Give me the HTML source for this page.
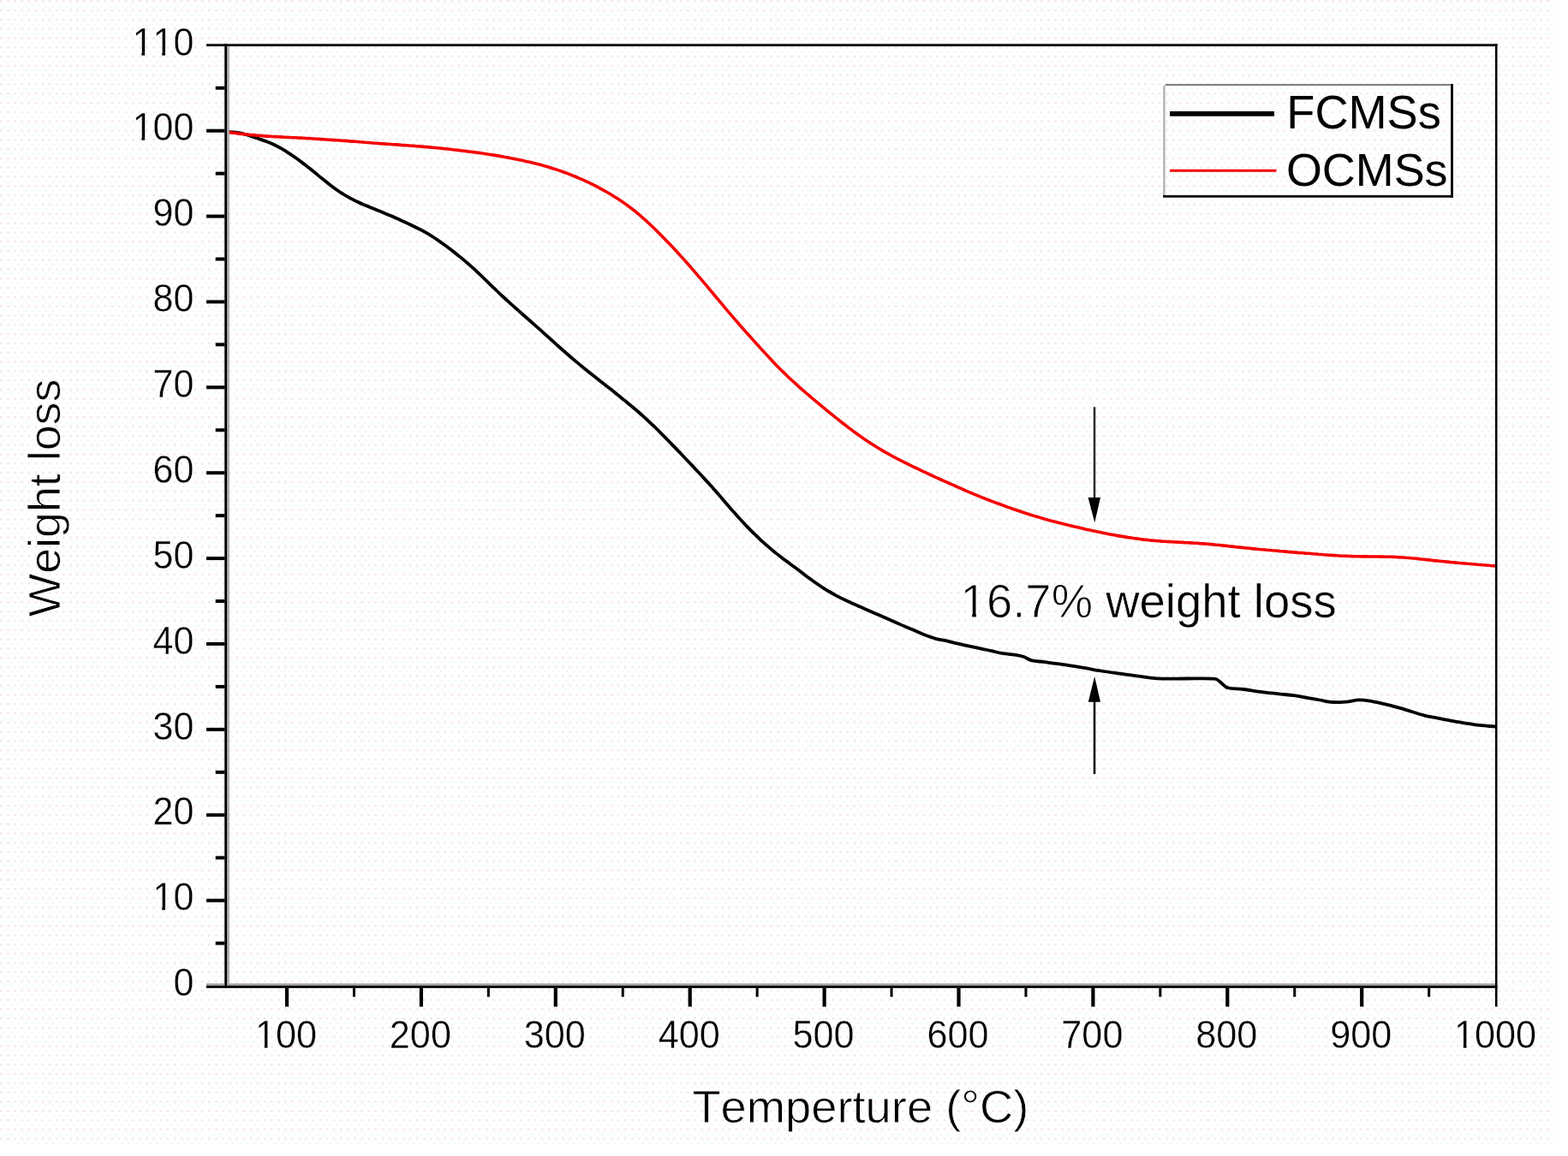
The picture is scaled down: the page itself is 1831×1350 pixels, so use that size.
<!DOCTYPE html>
<html><head><meta charset="utf-8"><title>TGA curves</title>
<style>
html,body{margin:0;padding:0;background:#fff;}
body{width:1831px;height:1350px;overflow:hidden;}
svg{display:block;}
</style></head>
<body>
<svg width="1831" height="1350" viewBox="0 0 1831 1350">
<defs><pattern id="dots" width="8.1" height="10.8" patternUnits="userSpaceOnUse"><rect x="0" y="0" width="2.7" height="2.7" fill="#f5ebeb"/><rect x="4.05" y="5.4" width="2.7" height="2.7" fill="#f0fcfc"/></pattern></defs>
<rect width="1831" height="1350" fill="#ffffff"/>
<rect width="1814" height="1336" fill="url(#dots)"/>
<path d="M264.5,154.1 C265.8,154.2 269.8,154.1 272.5,154.3 C275.2,154.5 277.8,154.8 280.5,155.3 C283.2,155.9 285.8,156.7 288.5,157.5 C291.2,158.3 293.8,159.3 296.5,160.2 C299.2,161.1 301.8,162.0 304.5,162.9 C307.2,163.8 309.8,164.7 312.5,165.7 C315.2,166.8 317.8,167.9 320.5,169.2 C323.2,170.5 325.8,171.9 328.5,173.4 C331.2,175.0 333.8,176.6 336.5,178.4 C339.2,180.1 341.8,181.9 344.5,183.8 C347.2,185.7 349.8,187.6 352.5,189.6 C355.2,191.6 357.8,193.7 360.5,195.8 C363.2,198.0 365.8,200.1 368.5,202.3 C371.2,204.5 373.8,206.7 376.5,208.8 C379.2,211.0 381.8,213.1 384.5,215.2 C387.2,217.3 389.8,219.3 392.5,221.2 C395.2,223.1 397.8,224.9 400.5,226.5 C403.2,228.2 405.8,229.7 408.5,231.2 C411.2,232.6 413.8,234.0 416.5,235.2 C419.2,236.5 421.8,237.7 424.5,238.9 C427.2,240.0 429.8,241.1 432.5,242.2 C435.2,243.3 437.8,244.4 440.5,245.5 C443.2,246.6 445.8,247.6 448.5,248.7 C451.2,249.8 453.8,251.0 456.5,252.1 C459.2,253.2 461.8,254.4 464.5,255.6 C467.2,256.8 469.8,258.0 472.5,259.2 C475.2,260.5 477.8,261.7 480.5,263.0 C483.2,264.3 485.8,265.6 488.5,267.0 C491.2,268.3 493.8,269.7 496.5,271.2 C499.2,272.7 501.8,274.3 504.5,276.0 C507.2,277.7 509.8,279.4 512.5,281.3 C515.2,283.1 517.8,285.0 520.5,287.0 C523.2,289.0 525.8,291.0 528.5,293.1 C531.2,295.1 533.8,297.3 536.5,299.4 C539.2,301.6 541.8,303.8 544.5,306.1 C547.2,308.4 549.8,310.7 552.5,313.1 C555.2,315.5 557.8,318.1 560.5,320.6 C563.2,323.2 565.8,325.8 568.5,328.4 C571.2,331.0 573.8,333.6 576.5,336.2 C579.2,338.7 581.8,341.3 584.5,343.8 C587.2,346.3 589.8,348.8 592.5,351.2 C595.2,353.6 597.8,356.0 600.5,358.4 C603.2,360.8 605.8,363.1 608.5,365.5 C611.2,367.8 613.8,370.2 616.5,372.5 C619.2,374.8 621.8,377.2 624.5,379.6 C627.2,381.9 629.8,384.3 632.5,386.7 C635.2,389.1 637.8,391.5 640.5,393.9 C643.2,396.3 645.8,398.7 648.5,401.1 C651.2,403.5 653.8,406.0 656.5,408.3 C659.2,410.7 661.8,413.0 664.5,415.3 C667.2,417.6 669.8,419.9 672.5,422.1 C675.2,424.3 677.8,426.5 680.5,428.7 C683.2,430.9 685.8,433.0 688.5,435.2 C691.2,437.3 693.8,439.4 696.5,441.5 C699.2,443.6 701.8,445.7 704.5,447.8 C707.2,449.9 709.8,452.0 712.5,454.1 C715.2,456.2 717.8,458.4 720.5,460.5 C723.2,462.6 725.8,464.8 728.5,467.0 C731.2,469.1 733.8,471.3 736.5,473.5 C739.2,475.7 741.8,477.9 744.5,480.2 C747.2,482.5 749.8,484.9 752.5,487.4 C755.2,489.8 757.8,492.3 760.5,494.8 C763.2,497.3 765.8,499.9 768.5,502.5 C771.2,505.2 773.8,507.9 776.5,510.6 C779.2,513.3 781.8,516.1 784.5,518.8 C787.2,521.6 789.8,524.4 792.5,527.1 C795.2,529.9 797.8,532.7 800.5,535.5 C803.2,538.3 805.8,541.1 808.5,543.9 C811.2,546.8 813.8,549.6 816.5,552.5 C819.2,555.3 821.8,558.2 824.5,561.1 C827.2,564.0 829.8,566.9 832.5,569.9 C835.2,572.9 837.8,576.0 840.5,579.1 C843.2,582.2 845.8,585.3 848.5,588.4 C851.2,591.5 853.8,594.6 856.5,597.6 C859.2,600.6 861.8,603.6 864.5,606.5 C867.2,609.4 869.8,612.3 872.5,615.1 C875.2,617.8 877.8,620.5 880.5,623.1 C883.2,625.7 885.8,628.3 888.5,630.8 C891.2,633.2 893.8,635.6 896.5,637.9 C899.2,640.3 901.8,642.5 904.5,644.7 C907.2,646.8 909.8,648.9 912.5,650.9 C915.2,653.0 917.8,654.9 920.5,656.9 C923.2,658.9 925.8,660.9 928.5,662.8 C931.2,664.8 933.8,666.9 936.5,668.9 C939.2,670.9 941.8,672.9 944.5,674.9 C947.2,676.8 949.8,678.8 952.5,680.7 C955.2,682.5 957.8,684.4 960.5,686.1 C963.2,687.8 965.8,689.5 968.5,691.0 C971.2,692.6 973.8,694.1 976.5,695.6 C979.2,697.0 981.8,698.3 984.5,699.6 C987.2,700.9 989.8,702.1 992.5,703.3 C995.2,704.6 997.8,705.7 1000.5,706.9 C1003.2,708.1 1005.8,709.3 1008.5,710.4 C1011.2,711.6 1013.8,712.8 1016.5,714.0 C1019.2,715.2 1021.8,716.3 1024.5,717.5 C1027.2,718.7 1029.8,719.9 1032.5,721.0 C1035.2,722.2 1037.8,723.4 1040.5,724.5 C1043.2,725.7 1045.8,726.9 1048.5,728.1 C1051.2,729.2 1053.5,730.3 1056.5,731.5 C1059.5,732.8 1062.4,734.0 1066.2,735.6 C1070.0,737.2 1074.9,739.5 1079.3,741.2 C1083.7,742.9 1088.0,744.6 1092.4,745.8 C1096.8,747.0 1101.1,747.4 1105.5,748.4 C1109.9,749.4 1114.2,750.7 1118.6,751.7 C1123.0,752.7 1127.3,753.7 1131.7,754.6 C1136.1,755.5 1140.4,756.4 1144.8,757.3 C1149.2,758.2 1153.8,759.3 1158.0,760.2 C1162.2,761.1 1165.1,762.1 1170.0,762.9 C1174.9,763.7 1183.2,764.4 1187.4,765.1 C1191.7,765.8 1192.6,766.0 1195.5,767.0 C1198.4,768.0 1200.8,770.4 1204.9,771.4 C1209.0,772.4 1214.0,772.4 1220.2,773.2 C1226.4,774.0 1234.7,775.0 1242.0,776.1 C1249.3,777.2 1256.5,778.4 1263.8,779.6 C1271.1,780.8 1278.4,782.3 1285.7,783.5 C1293.0,784.7 1300.2,785.6 1307.5,786.6 C1314.8,787.6 1322.1,788.8 1329.4,789.7 C1336.7,790.7 1342.1,791.8 1351.2,792.3 C1360.3,792.8 1373.1,792.5 1384.0,792.5 C1394.9,792.5 1410.0,792.1 1416.5,792.6 C1423.0,793.1 1421.0,793.8 1423.3,795.2 C1425.5,796.6 1428.0,799.6 1430.0,801.0 C1432.0,802.4 1431.3,802.8 1435.0,803.5 C1438.7,804.2 1446.1,804.3 1452.2,805.0 C1458.3,805.7 1464.2,807.0 1471.4,807.9 C1478.6,808.8 1488.8,809.9 1495.3,810.6 C1501.8,811.3 1505.5,811.5 1510.6,812.2 C1515.7,812.9 1520.8,813.9 1525.9,814.8 C1531.0,815.7 1536.1,816.6 1541.2,817.5 C1546.3,818.4 1551.4,819.6 1556.5,820.0 C1561.6,820.4 1566.7,820.0 1571.8,819.6 C1576.9,819.2 1581.9,817.5 1587.0,817.4 C1592.1,817.3 1597.2,818.3 1602.3,819.1 C1607.4,819.9 1612.5,821.2 1617.6,822.4 C1622.7,823.6 1627.8,825.0 1632.9,826.4 C1638.0,827.8 1643.1,829.5 1648.2,831.0 C1653.3,832.5 1658.4,834.3 1663.5,835.6 C1668.6,836.9 1673.7,837.6 1678.8,838.6 C1683.9,839.6 1689.0,840.8 1694.1,841.7 C1699.2,842.7 1704.3,843.5 1709.4,844.3 C1714.5,845.1 1719.6,846.0 1724.7,846.6 C1729.8,847.2 1736.5,847.7 1740.0,848.0 C1743.5,848.3 1745.0,848.4 1746.0,848.5" fill="none" stroke="#000" stroke-width="3.8" stroke-linejoin="round"/>
<path d="M264.5,154.3 L267.5,154.6 L270.5,155.0 L273.5,155.3 L276.5,155.7 L279.5,156.1 L282.5,156.4 L285.5,156.7 L288.5,157.0 L291.5,157.4 L294.5,157.6 L297.5,157.9 L300.5,158.2 L303.5,158.4 L306.5,158.6 L309.5,158.9 L312.5,159.1 L315.5,159.3 L318.5,159.5 L321.5,159.6 L324.5,159.8 L327.5,159.9 L330.5,160.1 L333.5,160.2 L336.5,160.4 L339.5,160.5 L342.5,160.7 L345.5,160.8 L348.5,161.0 L351.5,161.1 L354.5,161.3 L357.5,161.5 L360.5,161.6 L363.5,161.8 L366.5,162.0 L369.5,162.2 L372.5,162.4 L375.5,162.6 L378.5,162.8 L381.5,163.0 L384.5,163.2 L387.5,163.4 L390.5,163.6 L393.5,163.8 L396.5,164.0 L399.5,164.2 L402.5,164.4 L405.5,164.6 L408.5,164.9 L411.5,165.1 L414.5,165.3 L417.5,165.5 L420.5,165.8 L423.5,166.0 L426.5,166.3 L429.5,166.5 L432.5,166.7 L435.5,167.0 L438.5,167.2 L441.5,167.4 L444.5,167.7 L447.5,167.9 L450.5,168.1 L453.5,168.3 L456.5,168.5 L459.5,168.7 L462.5,168.9 L465.5,169.1 L468.5,169.4 L471.5,169.6 L474.5,169.8 L477.5,170.0 L480.5,170.2 L483.5,170.4 L486.5,170.7 L489.5,170.9 L492.5,171.1 L495.5,171.4 L498.5,171.6 L501.5,171.9 L504.5,172.2 L507.5,172.5 L510.5,172.7 L513.5,173.0 L516.5,173.4 L519.5,173.7 L522.5,174.0 L525.5,174.3 L528.5,174.7 L531.5,175.0 L534.5,175.4 L537.5,175.8 L540.5,176.1 L543.5,176.5 L546.5,176.9 L549.5,177.2 L552.5,177.6 L555.5,178.0 L558.5,178.4 L561.5,178.8 L564.5,179.3 L567.5,179.7 L570.5,180.2 L573.5,180.6 L576.5,181.1 L579.5,181.6 L582.5,182.1 L585.5,182.6 L588.5,183.2 L591.5,183.7 L594.5,184.3 L597.5,184.9 L600.5,185.5 L603.5,186.1 L606.5,186.7 L609.5,187.3 L612.5,188.0 L615.5,188.7 L618.5,189.3 L621.5,190.1 L624.5,190.8 L627.5,191.6 L630.5,192.3 L633.5,193.1 L636.5,194.0 L639.5,194.8 L642.5,195.7 L645.5,196.7 L648.5,197.6 L651.5,198.6 L654.5,199.6 L657.5,200.7 L660.5,201.8 L663.5,202.9 L666.5,204.1 L669.5,205.3 L672.5,206.5 L675.5,207.8 L678.5,209.1 L681.5,210.4 L684.5,211.8 L687.5,213.2 L690.5,214.7 L693.5,216.2 L696.5,217.7 L699.5,219.3 L702.5,220.9 L705.5,222.6 L708.5,224.3 L711.5,226.0 L714.5,227.8 L717.5,229.7 L720.5,231.6 L723.5,233.5 L726.5,235.5 L729.5,237.6 L732.5,239.8 L735.5,242.0 L738.5,244.3 L741.5,246.7 L744.5,249.1 L747.5,251.7 L750.5,254.3 L753.5,256.9 L756.5,259.7 L759.5,262.5 L762.5,265.3 L765.5,268.2 L768.5,271.2 L771.5,274.2 L774.5,277.3 L777.5,280.4 L780.5,283.5 L783.5,286.6 L786.5,289.8 L789.5,293.0 L792.5,296.3 L795.5,299.6 L798.5,302.9 L801.5,306.3 L804.5,309.7 L807.5,313.1 L810.5,316.6 L813.5,320.1 L816.5,323.6 L819.5,327.1 L822.5,330.6 L825.5,334.2 L828.5,337.8 L831.5,341.4 L834.5,345.0 L837.5,348.5 L840.5,352.1 L843.5,355.7 L846.5,359.3 L849.5,362.8 L852.5,366.4 L855.5,369.9 L858.5,373.4 L861.5,376.8 L864.5,380.3 L867.5,383.7 L870.5,387.1 L873.5,390.5 L876.5,393.8 L879.5,397.1 L882.5,400.5 L885.5,403.8 L888.5,407.1 L891.5,410.3 L894.5,413.6 L897.5,416.8 L900.5,420.1 L903.5,423.2 L906.5,426.4 L909.5,429.4 L912.5,432.5 L915.5,435.4 L918.5,438.3 L921.5,441.2 L924.5,444.0 L927.5,446.7 L930.5,449.4 L933.5,452.1 L936.5,454.8 L939.5,457.4 L942.5,460.0 L945.5,462.5 L948.5,465.1 L951.5,467.6 L954.5,470.1 L957.5,472.6 L960.5,475.1 L963.5,477.6 L966.5,480.1 L969.5,482.5 L972.5,484.9 L975.5,487.3 L978.5,489.7 L981.5,492.1 L984.5,494.5 L987.5,496.8 L990.5,499.1 L993.5,501.4 L996.5,503.6 L999.5,505.8 L1002.5,508.0 L1005.5,510.1 L1008.5,512.2 L1011.5,514.2 L1014.5,516.2 L1017.5,518.2 L1020.5,520.1 L1023.5,522.0 L1026.5,523.8 L1029.5,525.6 L1032.5,527.4 L1035.5,529.1 L1038.5,530.7 L1041.5,532.4 L1044.5,534.0 L1047.5,535.6 L1050.5,537.1 L1053.5,538.6 L1056.5,540.1 L1059.5,541.6 L1062.5,543.1 L1065.5,544.6 L1068.5,546.0 L1071.5,547.4 L1074.5,548.9 L1077.5,550.3 L1080.5,551.7 L1083.5,553.1 L1086.5,554.5 L1089.5,555.9 L1092.5,557.3 L1095.5,558.6 L1098.5,560.0 L1101.5,561.4 L1104.5,562.7 L1107.5,564.0 L1110.5,565.4 L1113.5,566.7 L1116.5,568.0 L1119.5,569.3 L1122.5,570.6 L1125.5,572.0 L1128.5,573.3 L1131.5,574.6 L1134.5,575.8 L1137.5,577.1 L1140.5,578.3 L1143.5,579.6 L1146.5,580.8 L1149.5,582.0 L1152.5,583.2 L1155.5,584.3 L1158.5,585.5 L1161.5,586.6 L1164.5,587.7 L1167.5,588.8 L1170.5,589.9 L1173.5,591.0 L1176.5,592.1 L1179.5,593.1 L1182.5,594.2 L1185.5,595.2 L1188.5,596.3 L1191.5,597.3 L1194.5,598.3 L1197.5,599.2 L1200.5,600.2 L1203.5,601.2 L1206.5,602.1 L1209.5,603.0 L1212.5,603.9 L1215.5,604.8 L1218.5,605.7 L1221.5,606.6 L1224.5,607.4 L1227.5,608.2 L1230.5,609.0 L1233.5,609.8 L1236.5,610.6 L1239.5,611.3 L1242.5,612.1 L1245.5,612.8 L1248.5,613.5 L1251.5,614.2 L1254.5,614.9 L1257.5,615.6 L1260.5,616.3 L1263.5,617.0 L1266.5,617.7 L1269.5,618.4 L1272.5,619.0 L1275.5,619.7 L1278.5,620.3 L1281.5,621.0 L1284.5,621.6 L1287.5,622.2 L1290.5,622.8 L1293.5,623.4 L1296.5,624.0 L1299.5,624.5 L1302.5,625.1 L1305.5,625.6 L1308.5,626.1 L1311.5,626.6 L1314.5,627.1 L1317.5,627.6 L1320.5,628.0 L1323.5,628.5 L1326.5,628.9 L1329.5,629.3 L1332.5,629.7 L1335.5,630.1 L1338.5,630.4 L1341.5,630.8 L1344.5,631.1 L1347.5,631.3 L1350.5,631.6 L1353.5,631.8 L1356.5,632.1 L1359.5,632.3 L1362.5,632.5 L1365.5,632.6 L1368.5,632.8 L1371.5,633.0 L1374.5,633.1 L1377.5,633.3 L1380.5,633.4 L1383.5,633.6 L1386.5,633.7 L1389.5,633.9 L1392.5,634.1 L1395.5,634.3 L1398.5,634.4 L1401.5,634.7 L1404.5,634.9 L1407.5,635.1 L1410.5,635.3 L1413.5,635.6 L1416.5,635.9 L1419.5,636.2 L1422.5,636.5 L1425.5,636.8 L1428.5,637.1 L1431.5,637.4 L1434.5,637.8 L1437.5,638.1 L1440.5,638.4 L1443.5,638.8 L1446.5,639.1 L1449.5,639.4 L1452.5,639.7 L1455.5,640.0 L1458.5,640.3 L1461.5,640.6 L1464.5,640.9 L1467.5,641.2 L1470.5,641.5 L1473.5,641.7 L1476.5,642.0 L1479.5,642.3 L1482.5,642.5 L1485.5,642.8 L1488.5,643.0 L1491.5,643.3 L1494.5,643.6 L1497.5,643.8 L1500.5,644.1 L1503.5,644.4 L1506.5,644.6 L1509.5,644.9 L1512.5,645.1 L1515.5,645.4 L1518.5,645.6 L1521.5,645.8 L1524.5,646.1 L1527.5,646.3 L1530.5,646.5 L1533.5,646.8 L1536.5,647.0 L1539.5,647.3 L1542.5,647.5 L1545.5,647.8 L1548.5,648.0 L1551.5,648.2 L1554.5,648.4 L1557.5,648.6 L1560.5,648.8 L1563.5,649.0 L1566.5,649.2 L1569.5,649.3 L1572.5,649.4 L1575.5,649.5 L1578.5,649.6 L1581.5,649.7 L1584.5,649.8 L1587.5,649.8 L1590.5,649.9 L1593.5,649.9 L1596.5,649.9 L1599.5,650.0 L1602.5,650.0 L1605.5,650.0 L1608.5,650.0 L1611.5,650.1 L1614.5,650.1 L1617.5,650.2 L1620.5,650.2 L1623.5,650.3 L1626.5,650.4 L1629.5,650.5 L1632.5,650.7 L1635.5,650.9 L1638.5,651.0 L1641.5,651.3 L1644.5,651.5 L1647.5,651.8 L1650.5,652.0 L1653.5,652.3 L1656.5,652.6 L1659.5,653.0 L1662.5,653.3 L1665.5,653.6 L1668.5,653.9 L1671.5,654.2 L1674.5,654.6 L1677.5,654.9 L1680.5,655.2 L1683.5,655.5 L1686.5,655.8 L1689.5,656.1 L1692.5,656.4 L1695.5,656.7 L1698.5,656.9 L1701.5,657.2 L1704.5,657.5 L1707.5,657.7 L1710.5,658.0 L1713.5,658.3 L1716.5,658.5 L1719.5,658.8 L1722.5,659.0 L1725.5,659.3 L1728.5,659.5 L1731.5,659.8 L1734.5,660.0 L1737.5,660.2 L1740.5,660.5 L1743.5,660.7 L1746.0,660.9" fill="none" stroke="#f50000" stroke-width="3.6" stroke-linejoin="round"/>
<rect x="241.00" y="51.30" width="1507.50" height="2.80" fill="#000"/>
<rect x="262.20" y="51.30" width="2.80" height="1102.60" fill="#000"/>
<rect x="265.00" y="54.10" width="2.80" height="1094.40" fill="#a9a9a9"/>
<rect x="241.00" y="1148.50" width="21.20" height="2.60" fill="#a0a0a0"/>
<rect x="265.00" y="1148.50" width="1480.90" height="2.60" fill="#a0a0a0"/>
<rect x="241.00" y="1151.10" width="1507.50" height="2.80" fill="#000"/>
<rect x="1745.90" y="51.30" width="2.60" height="1124.30" fill="#000"/>
<rect x="251.70" y="1099.56" width="10.50" height="4.00" fill="#000"/>
<rect x="241.00" y="1049.62" width="21.20" height="4.00" fill="#000"/>
<rect x="251.70" y="999.68" width="10.50" height="4.00" fill="#000"/>
<rect x="241.00" y="949.74" width="21.20" height="4.00" fill="#000"/>
<rect x="251.70" y="899.80" width="10.50" height="4.00" fill="#000"/>
<rect x="241.00" y="849.86" width="21.20" height="4.00" fill="#000"/>
<rect x="251.70" y="799.92" width="10.50" height="4.00" fill="#000"/>
<rect x="241.00" y="749.98" width="21.20" height="4.00" fill="#000"/>
<rect x="251.70" y="700.04" width="10.50" height="4.00" fill="#000"/>
<rect x="241.00" y="650.10" width="21.20" height="4.00" fill="#000"/>
<rect x="251.70" y="600.16" width="10.50" height="4.00" fill="#000"/>
<rect x="241.00" y="550.22" width="21.20" height="4.00" fill="#000"/>
<rect x="251.70" y="500.28" width="10.50" height="4.00" fill="#000"/>
<rect x="241.00" y="450.34" width="21.20" height="4.00" fill="#000"/>
<rect x="251.70" y="400.40" width="10.50" height="4.00" fill="#000"/>
<rect x="241.00" y="350.46" width="21.20" height="4.00" fill="#000"/>
<rect x="251.70" y="300.52" width="10.50" height="4.00" fill="#000"/>
<rect x="241.00" y="250.58" width="21.20" height="4.00" fill="#000"/>
<rect x="251.70" y="200.64" width="10.50" height="4.00" fill="#000"/>
<rect x="241.00" y="150.70" width="21.20" height="4.00" fill="#000"/>
<rect x="251.70" y="100.76" width="10.50" height="4.00" fill="#000"/>
<rect x="332.90" y="1153.90" width="4.20" height="21.70" fill="#000"/>
<rect x="411.95" y="1153.90" width="3.00" height="10.30" fill="#000"/>
<rect x="489.80" y="1153.90" width="4.20" height="21.70" fill="#000"/>
<rect x="568.85" y="1153.90" width="3.00" height="10.30" fill="#000"/>
<rect x="646.70" y="1153.90" width="4.20" height="21.70" fill="#000"/>
<rect x="725.75" y="1153.90" width="3.00" height="10.30" fill="#000"/>
<rect x="803.60" y="1153.90" width="4.20" height="21.70" fill="#000"/>
<rect x="882.65" y="1153.90" width="3.00" height="10.30" fill="#000"/>
<rect x="960.50" y="1153.90" width="4.20" height="21.70" fill="#000"/>
<rect x="1039.55" y="1153.90" width="3.00" height="10.30" fill="#000"/>
<rect x="1117.40" y="1153.90" width="4.20" height="21.70" fill="#000"/>
<rect x="1196.45" y="1153.90" width="3.00" height="10.30" fill="#000"/>
<rect x="1274.30" y="1153.90" width="4.20" height="21.70" fill="#000"/>
<rect x="1353.35" y="1153.90" width="3.00" height="10.30" fill="#000"/>
<rect x="1431.20" y="1153.90" width="4.20" height="21.70" fill="#000"/>
<rect x="1510.25" y="1153.90" width="3.00" height="10.30" fill="#000"/>
<rect x="1588.10" y="1153.90" width="4.20" height="21.70" fill="#000"/>
<rect x="1667.15" y="1153.90" width="3.00" height="10.30" fill="#000"/>
<rect x="1360.90" y="98.00" width="336.00" height="2.20" fill="#808080"/>
<rect x="1358.10" y="100.00" width="2.60" height="128.00" fill="#b8b8b8"/>
<rect x="1694.10" y="98.00" width="2.80" height="132.70" fill="#000"/>
<rect x="1358.10" y="228.00" width="338.80" height="2.70" fill="#000"/>
<rect x="1366.10" y="130.00" width="121.90" height="5.70" fill="#000"/>
<line x1="1366" y1="199.3" x2="1490.5" y2="199.3" stroke="#f50000" stroke-width="3"/>
<rect x="1276.80" y="475.30" width="2.50" height="106.70" fill="#2a2a2a"/>
<polygon points="1270.6,581 1285,581 1278.3,610.3" fill="#000"/>
<rect x="1276.80" y="818.00" width="2.50" height="86.00" fill="#000"/>
<polygon points="1270.8,819.8 1285,819.8 1278.2,790" fill="#000"/>
<g font-family="Liberation Sans, Arial, sans-serif" fill="#000" style="font-kerning:none">
<g transform="translate(226.28,1163.22) scale(0.9987,1.0911)"><text font-size="43.00" text-anchor="end" stroke="#fdfdfd" stroke-width="0.38">0</text></g>
<g transform="translate(226.28,1063.34) scale(0.9987,1.0911)"><text font-size="43.00" text-anchor="end" stroke="#fdfdfd" stroke-width="0.38">10</text></g><rect x="181.10" y="1059.02" width="8.12" height="4.79" fill="#fff"/><rect x="181.10" y="1059.02" width="8.12" height="4.79" fill="url(#dots)"/><rect x="192.95" y="1059.02" width="7.90" height="4.79" fill="#fff"/><rect x="192.95" y="1059.02" width="7.90" height="4.79" fill="url(#dots)"/>
<g transform="translate(226.28,963.46) scale(0.9987,1.0911)"><text font-size="43.00" text-anchor="end" stroke="#fdfdfd" stroke-width="0.38">20</text></g>
<g transform="translate(226.28,863.58) scale(0.9987,1.0911)"><text font-size="43.00" text-anchor="end" stroke="#fdfdfd" stroke-width="0.38">30</text></g>
<g transform="translate(226.28,763.70) scale(0.9987,1.0911)"><text font-size="43.00" text-anchor="end" stroke="#fdfdfd" stroke-width="0.38">40</text></g>
<g transform="translate(226.28,663.82) scale(0.9987,1.0911)"><text font-size="43.00" text-anchor="end" stroke="#fdfdfd" stroke-width="0.38">50</text></g>
<g transform="translate(226.28,563.94) scale(0.9987,1.0911)"><text font-size="43.00" text-anchor="end" stroke="#fdfdfd" stroke-width="0.38">60</text></g>
<g transform="translate(226.28,464.06) scale(0.9987,1.0911)"><text font-size="43.00" text-anchor="end" stroke="#fdfdfd" stroke-width="0.38">70</text></g>
<g transform="translate(226.28,364.18) scale(0.9987,1.0911)"><text font-size="43.00" text-anchor="end" stroke="#fdfdfd" stroke-width="0.38">80</text></g>
<g transform="translate(226.28,264.30) scale(0.9987,1.0911)"><text font-size="43.00" text-anchor="end" stroke="#fdfdfd" stroke-width="0.38">90</text></g>
<g transform="translate(226.28,164.42) scale(0.9987,1.0911)"><text font-size="43.00" text-anchor="end" stroke="#fdfdfd" stroke-width="0.38">100</text></g><rect x="157.23" y="160.10" width="8.12" height="4.79" fill="#fff"/><rect x="157.23" y="160.10" width="8.12" height="4.79" fill="url(#dots)"/><rect x="169.08" y="160.10" width="7.90" height="4.79" fill="#fff"/><rect x="169.08" y="160.10" width="7.90" height="4.79" fill="url(#dots)"/>
<g transform="translate(226.28,64.54) scale(0.9987,1.0911)"><text font-size="43.00" text-anchor="end" stroke="#fdfdfd" stroke-width="0.38">110</text></g><rect x="157.23" y="60.22" width="8.12" height="4.79" fill="#fff"/><rect x="157.23" y="60.22" width="8.12" height="4.79" fill="url(#dots)"/><rect x="169.08" y="60.22" width="7.90" height="4.79" fill="#fff"/><rect x="169.08" y="60.22" width="7.90" height="4.79" fill="url(#dots)"/><rect x="181.10" y="60.22" width="8.12" height="4.79" fill="#fff"/><rect x="181.10" y="60.22" width="8.12" height="4.79" fill="url(#dots)"/><rect x="192.95" y="60.22" width="7.90" height="4.79" fill="#fff"/><rect x="192.95" y="60.22" width="7.90" height="4.79" fill="url(#dots)"/>
<g transform="translate(333.99,1224.09) scale(1.0051,1.0705)"><text font-size="43.00" text-anchor="middle" stroke="#fdfdfd" stroke-width="0.39">100</text></g><rect x="300.54" y="1219.85" width="8.17" height="4.70" fill="#fff"/><rect x="300.54" y="1219.85" width="8.17" height="4.70" fill="url(#dots)"/><rect x="312.47" y="1219.85" width="7.95" height="4.70" fill="#fff"/><rect x="312.47" y="1219.85" width="7.95" height="4.70" fill="url(#dots)"/>
<g transform="translate(490.89,1224.09) scale(1.0051,1.0705)"><text font-size="43.00" text-anchor="middle" stroke="#fdfdfd" stroke-width="0.39">200</text></g>
<g transform="translate(647.79,1224.09) scale(1.0051,1.0705)"><text font-size="43.00" text-anchor="middle" stroke="#fdfdfd" stroke-width="0.39">300</text></g>
<g transform="translate(804.69,1224.09) scale(1.0051,1.0705)"><text font-size="43.00" text-anchor="middle" stroke="#fdfdfd" stroke-width="0.39">400</text></g>
<g transform="translate(961.59,1224.09) scale(1.0051,1.0705)"><text font-size="43.00" text-anchor="middle" stroke="#fdfdfd" stroke-width="0.39">500</text></g>
<g transform="translate(1118.49,1224.09) scale(1.0051,1.0705)"><text font-size="43.00" text-anchor="middle" stroke="#fdfdfd" stroke-width="0.39">600</text></g>
<g transform="translate(1275.39,1224.09) scale(1.0051,1.0705)"><text font-size="43.00" text-anchor="middle" stroke="#fdfdfd" stroke-width="0.39">700</text></g>
<g transform="translate(1432.29,1224.09) scale(1.0051,1.0705)"><text font-size="43.00" text-anchor="middle" stroke="#fdfdfd" stroke-width="0.39">800</text></g>
<g transform="translate(1589.19,1224.09) scale(1.0051,1.0705)"><text font-size="43.00" text-anchor="middle" stroke="#fdfdfd" stroke-width="0.39">900</text></g>
<g transform="translate(1746.09,1224.09) scale(1.0051,1.0705)"><text font-size="43.00" text-anchor="middle" stroke="#fdfdfd" stroke-width="0.39">1000</text></g><rect x="1700.62" y="1219.85" width="8.17" height="4.70" fill="#fff"/><rect x="1700.62" y="1219.85" width="8.17" height="4.70" fill="url(#dots)"/><rect x="1712.55" y="1219.85" width="7.95" height="4.70" fill="#fff"/><rect x="1712.55" y="1219.85" width="7.95" height="4.70" fill="url(#dots)"/>
<g transform="translate(808.39,1311.15) scale(1.0250,1.0172)"><text font-size="53.00" stroke="#fdfdfd" stroke-width="0.78">Temperture (°C)</text></g>
<g transform="translate(70.45,720.53) rotate(-90) scale(1.0338,1.0120)"><text font-size="52.00" stroke="#fdfdfd" stroke-width="0.78">Weight loss</text></g>
<g transform="translate(1502.33,150.47) scale(1.0028,1.0327)"><text font-size="54.00">FCMSs</text></g>
<g transform="translate(1501.95,216.70) scale(0.9981,1.0095)"><text font-size="54.00">OCMSs</text></g>
<g transform="translate(1121.61,720.75) scale(0.9728,0.9894)"><text font-size="56.00"><tspan stroke="#fdfdfd" stroke-width="1.00">16.7%</tspan><tspan stroke="#fdfdfd" stroke-width="0.50"> weight loss</tspan></text></g><rect x="1124.88" y="715.65" width="10.30" height="5.65" fill="#fff"/><rect x="1124.88" y="715.65" width="10.30" height="5.65" fill="url(#dots)"/><rect x="1139.92" y="715.65" width="10.02" height="5.65" fill="#fff"/><rect x="1139.92" y="715.65" width="10.02" height="5.65" fill="url(#dots)"/>
</g>
</svg>
</body></html>
